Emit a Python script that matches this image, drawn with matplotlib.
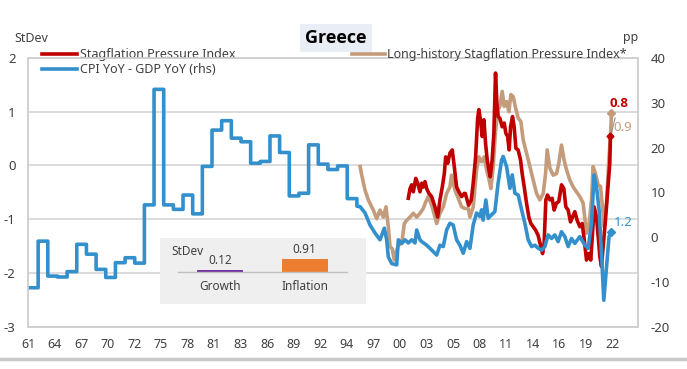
import numpy as np
import matplotlib.pyplot as plt
from matplotlib.lines import Line2D

plt.rcParams['font.family'] = ['Noto Sans', 'DejaVu Sans']
plt.rcParams['axes.unicode_minus'] = False

# CPI YoY - GDP YoY (pp), annual until 1995, drawn as steps
ann_years = np.arange(1961, 1996)
ann_gap = [-11.3, -0.9, -8.7, -8.9, -7.7, -1.6, -3.8, -7.2, -9.0, -5.7,
           -4.6, -5.8, 7.2, 33.0, 7.2, 6.2, 9.4, 5.2, 15.8, 23.9,
           26.0, 22.1, 21.3, 16.5, 16.9, 22.6, 18.9, 9.2, 9.8, 20.6,
           16.3, 15.1, 15.9, 8.6, 6.9]

# CPI YoY - GDP YoY (pp), higher frequency from 1996
gap_t = [1996.13, 1996.64, 1997.16, 1997.68, 1998.19, 1998.64, 1998.88, 1999.05, 1999.40, 1999.92,
         2000.09, 2000.44, 2000.78, 2001.12, 2001.47, 2001.81, 2001.99, 2002.33, 2002.51, 2003.02,
         2003.36, 2004.06, 2004.40, 2004.74, 2005.09, 2005.43, 2005.77, 2006.12, 2006.46, 2006.81,
         2007.16, 2007.50, 2007.84, 2008.19, 2008.53, 2008.71, 2008.87, 2009.15, 2009.39, 2009.74,
         2010.08, 2010.42, 2010.78, 2010.94, 2011.30, 2011.64, 2011.88, 2012.16, 2012.50, 2012.85,
         2013.19, 2013.53, 2013.88, 2014.23, 2014.57, 2014.92, 2015.26, 2015.60, 2015.95, 2016.29,
         2016.63, 2016.98, 2017.33, 2017.67, 2018.02, 2018.36, 2018.88, 2019.40, 2019.74, 2020.09,
         2020.36, 2020.60, 2020.87, 2021.12, 2021.36, 2021.64, 2021.90, 2022.15]
gap_v = [6.8, 5.4, 2.7, 0.9, -0.6, 2.0, -0.6, -4.4, -5.9, -6.2,
         -0.6, -1.4, -0.6, -1.3, -0.6, -1.3, 1.6, -0.6, -1.0, -1.8,
         -2.5, -4.0, -1.8, -2.1, 1.6, 3.1, 2.7, -0.6, -1.8, -3.6,
         -1.0, -2.5, 2.7, 5.4, 4.6, 6.1, 3.8, 8.3, 4.2, 5.0,
         5.7, 12.1, 17.2, 18.0, 15.7, 10.9, 13.9, 9.8, 9.4, 6.1,
         3.1, -0.6, -2.1, -1.8, -2.5, -2.9, -2.1, 0.5, -0.3, 0.5,
         -1.0, 1.2, 0.1, -2.1, -0.3, -1.4, 0.1, -1.8, -2.5, 3.1,
         13.9, 11.3, 6.1, -3.6, -14.1, -6.6, 0.1, 1.2]

# Stagflation Pressure Index (StDev)
spi_t = [2001.12, 2001.30, 2001.47, 2001.64, 2001.89, 2002.09, 2002.33, 2002.51, 2002.67, 2002.85,
         2003.02, 2003.26, 2003.54, 2003.88, 2004.16, 2004.40, 2004.64, 2004.85, 2004.99, 2005.20,
         2005.43, 2005.67, 2005.88, 2006.12, 2006.36, 2006.64, 2006.91, 2007.02, 2007.36, 2007.64,
         2007.84, 2008.09, 2008.30, 2008.43, 2008.61, 2008.77, 2008.95, 2009.12, 2009.29, 2009.46,
         2009.60, 2009.80, 2009.98, 2010.15, 2010.29, 2010.42, 2010.60, 2010.84, 2011.05, 2011.22,
         2011.40, 2011.56, 2011.71, 2011.91, 2012.08, 2012.26, 2012.49, 2012.74, 2012.91, 2013.12,
         2013.36, 2013.60, 2013.81, 2014.05, 2014.29, 2014.56, 2014.84, 2015.02, 2015.18, 2015.36,
         2015.53, 2015.77, 2016.01, 2016.22, 2016.46, 2016.70, 2016.98, 2017.22, 2017.43, 2017.67,
         2017.91, 2018.12, 2018.36, 2018.60, 2018.88, 2019.12, 2019.32, 2019.57, 2019.81, 2020.01,
         2020.19, 2020.36, 2020.60, 2020.81, 2020.95, 2021.12, 2021.29, 2021.53, 2021.74, 2021.98,
         2022.05]
spi_v = [-0.61, -0.43, -0.36, -0.49, -0.24, -0.33, -0.49, -0.33, -0.40, -0.30,
         -0.43, -0.52, -0.58, -0.77, -0.96, -0.64, -0.40, -0.15, 0.16, 0.04,
         0.23, 0.29, -0.02, -0.40, -0.49, -0.58, -0.52, -0.52, -0.74, -0.64,
         -0.33, 0.16, 0.88, 1.04, 0.82, 0.54, 0.85, 0.41, 0.10, -0.08,
         -0.21, 0.10, 0.60, 1.72, 1.16, 0.91, 0.88, 0.72, 0.79, 0.60,
         0.54, 0.29, 0.72, 0.91, 0.72, 0.32, 0.29, 0.10, -0.15, -0.40,
         -0.70, -0.96, -1.08, -1.14, -1.20, -1.30, -1.51, -1.64, -1.45, -0.64,
         -0.55, -0.64, -0.61, -0.83, -0.70, -0.67, -0.36, -0.43, -0.77, -0.83,
         -1.05, -0.96, -0.86, -1.02, -1.14, -1.08, -1.36, -1.76, -1.64, -1.76,
         -1.26, -0.77, -0.96, -1.39, -1.70, -1.88, -1.51, -1.02, -0.52, 0.04,
         0.54]

# Long-history Stagflation Pressure Index (StDev)
lh_t = [1996.13, 1996.30, 1996.64, 1996.98, 1997.33, 1997.50, 1997.85, 1998.19, 1998.53, 1998.81,
        1999.05, 1999.23, 1999.46, 1999.67, 1999.92, 2000.09, 2000.44, 2000.71, 2000.95, 2001.30,
        2001.64, 2001.99, 2002.33, 2002.67, 2002.92, 2003.19, 2003.54, 2003.88, 2004.06, 2004.40,
        2004.74, 2005.09, 2005.43, 2005.60, 2005.95, 2006.29, 2006.64, 2006.98, 2007.33, 2007.50,
        2007.84, 2008.19, 2008.43, 2008.71, 2008.98, 2009.22, 2009.46, 2009.67, 2009.91, 2010.16,
        2010.42, 2010.60, 2010.84, 2011.05, 2011.30, 2011.53, 2011.74, 2011.98, 2012.23, 2012.50,
        2012.77, 2013.01, 2013.36, 2013.71, 2014.05, 2014.40, 2014.74, 2015.09, 2015.33, 2015.50,
        2015.78, 2016.12, 2016.47, 2016.70, 2016.98, 2017.25, 2017.50, 2017.84, 2018.19, 2018.53,
        2018.88, 2019.22, 2019.57, 2019.84, 2020.09, 2020.25, 2020.50, 2020.77, 2021.02, 2021.22,
        2021.39, 2021.64, 2021.88, 2022.05, 2022.15]
lh_v = [-0.02, -0.18, -0.46, -0.64, -0.77, -0.83, -0.99, -0.83, -0.96, -0.77,
        -1.14, -1.51, -1.55, -1.76, -1.58, -1.48, -1.45, -1.08, -1.02, -0.96,
        -0.89, -0.96, -0.89, -0.80, -0.68, -0.58, -0.74, -0.96, -1.08, -0.89,
        -0.77, -0.52, -0.40, -0.18, -0.46, -0.61, -0.77, -0.80, -0.80, -0.96,
        -0.77, -0.08, 0.16, 0.07, 0.16, -0.08, -0.24, -0.43, -0.02, 0.66,
        1.04, 1.10, 1.38, 1.10, 1.19, 1.00, 1.32, 1.28, 1.07, 0.88,
        0.82, 0.48, 0.23, -0.02, -0.27, -0.52, -0.64, -0.52, -0.15, 0.29,
        -0.05, -0.18, -0.15, 0.04, 0.38, 0.10, -0.08, -0.27, -0.40, -0.49,
        -0.58, -0.70, -1.26, -1.08, -0.64, -0.02, -0.15, -0.36, -0.39, -0.77,
        -1.14, -0.70, 0.10, 0.54, 0.97]

# inset: standard deviation contributions
inset_cats = ['Growth', 'Inflation']
inset_vals = [0.12, 0.91]

tick_labels = ['61', '64', '67', '70', '72', '75', '78', '81', '83', '86', '89', '92',
               '94', '97', '00', '03', '05', '08', '11', '14', '16', '19', '22']

RED = '#c00000'
BLUE = '#3390cc'
TAN = '#c49c7c'
GRID = '#d9d9d9'
TXT = '#404040'
LW = 2.6

fig = plt.figure(figsize=(6.87, 3.69), dpi=100)
ax = fig.add_axes([28 / 687, 1 - 326.7 / 369, 610 / 687, 268.7 / 369])
ax2 = ax.twinx()

# blue: annual steps joined to the higher-frequency part
step_x = np.repeat(ann_years + 0.8, 2)[1:]
step_y = np.repeat(ann_gap, 2)[:-1]
bx = np.concatenate([step_x, gap_t])
by = np.concatenate([step_y, gap_v])

l_lh, = ax.plot(lh_t, lh_v, color=TAN, lw=LW, zorder=3)
l_spi, = ax.plot(spi_t, spi_v, color=RED, lw=LW, zorder=4)
ax.plot(lh_t[-1], lh_v[-1], marker='D', ms=4.5, color=TAN, zorder=5)
ax.plot(spi_t[-1], spi_v[-1], marker='D', ms=3.5, color=RED, zorder=6)
l_gap, = ax2.plot(bx, by, color=BLUE, lw=LW)
ax2.plot(gap_t[-1], gap_v[-1], marker='D', ms=4.5, color=BLUE)

ax.annotate('0.8', xy=(spi_t[-1], spi_v[-1]), xytext=(6, 24), textcoords='offset points',
            ha='center', va='center', fontsize=9.5, fontweight='bold', color=RED,
            family=['Open Sans', 'DejaVu Sans'],
            arrowprops=dict(arrowstyle='-', color='#909090', lw=0.8, shrinkA=4, shrinkB=14))
ax.annotate('0.9', xy=(lh_t[-1], lh_v[-1]), xytext=(8, -10), textcoords='offset points',
            ha='center', va='center', fontsize=9.5, color=TAN)
ax2.annotate('1.2', xy=(gap_t[-1], gap_v[-1]), xytext=(8.5, 7), textcoords='offset points',
             ha='center', va='center', fontsize=9.5, color=BLUE)

ax.set_xlim(1961.75, 2024.9)
ax.set_ylim(-3, 2)
ax2.set_ylim(-20, 40)
ax.set_yticks(np.arange(-3, 3))
ax2.set_yticks(np.arange(-20, 41, 10))
ax.set_xticks(1961.75 + 2.75 * np.arange(len(tick_labels)))
ax.set_xticklabels(tick_labels)

ax.grid(axis='y', color=GRID, lw=1.3)
ax.grid(axis='x', visible=False)
ax.set_axisbelow(True)
for a in (ax, ax2):
    for s in a.spines.values():
        s.set_color('#d0d0d0')
        s.set_linewidth(1.2)
ax.tick_params(axis='y', length=0, pad=9, labelsize=9.5, labelcolor=TXT)
ax.tick_params(axis='x', length=0, pad=8, labelsize=9, labelcolor=TXT)
ax2.tick_params(axis='y', length=0, pad=9, labelsize=9.5, labelcolor=TXT)

fig.text(14 / 687, 1 - 38 / 369, 'StDev', ha='left', va='center', fontsize=9, color=TXT)
fig.text(638 / 687, 1 - 38 / 369, 'pp', ha='right', va='center', fontsize=9, color=TXT)
fig.text(336 / 687, 1 - 38 / 369, 'Greece', ha='center', va='center', fontsize=13,
         fontweight='bold', color='black', family=['Open Sans', 'DejaVu Sans'],
         bbox=dict(boxstyle='square,pad=0.3', fc='#e9edf5', ec='none'))

leg1 = ax.legend(handles=[l_spi, l_gap], labels=['Stagflation Pressure Index', 'CPI YoY - GDP YoY (rhs)'],
                 loc='upper left', bbox_to_anchor=(42 / 687, 1 - 48 / 369), bbox_transform=fig.transFigure,
                 frameon=False, fontsize=9, handlelength=2.8, handletextpad=0.2, labelspacing=0.15,
                 borderpad=0, borderaxespad=0)
for t in leg1.get_texts():
    t.set_color(TXT)
leg2 = ax2.legend(handles=[l_lh], labels=['Long-history Stagflation Pressure Index*'],
                  loc='upper left', bbox_to_anchor=(352 / 687, 1 - 48 / 369), bbox_transform=fig.transFigure,
                  frameon=False, fontsize=9, handlelength=2.6, handletextpad=0.2,
                  borderpad=0, borderaxespad=0)
for t in leg2.get_texts():
    t.set_color(TXT)

# inset bar chart
axi = fig.add_axes([160 / 687, 1 - 304 / 369, 206 / 687, 66 / 369])
axi.set_facecolor('#efefef')
for s in axi.spines.values():
    s.set_visible(False)
axi.set_xlim(-0.708, 1.724)
axi.set_ylim(-2.29, 2.43)
axi.set_xticks([])
axi.set_yticks([])
bars = axi.bar(range(len(inset_vals)), inset_vals, width=0.54, color=['#7030a0', '#ed7d31'])
axi.axhline(0, xmin=0.087, xmax=0.908, color='#c0c0c0', lw=1)
for i, v in enumerate(inset_vals):
    axi.annotate(f'{v:.2f}', xy=(i, v), xytext=(0, 2.5), textcoords='offset points',
                 ha='center', va='bottom', fontsize=8.5, color=TXT)
    axi.annotate(inset_cats[i], xy=(i, 0), xytext=(0, -10.6), textcoords='offset points',
                 ha='center', va='center', fontsize=8.5, color=TXT)
axi.text(0.057, 0.79, 'StDev', transform=axi.transAxes, ha='left', va='center', fontsize=8.5, color=TXT)

fig.add_artist(Line2D([0, 1], [1 - 359 / 369] * 2, transform=fig.transFigure, color='#c8c8c8', lw=2.5))

fig.savefig('out.png', dpi=100)
